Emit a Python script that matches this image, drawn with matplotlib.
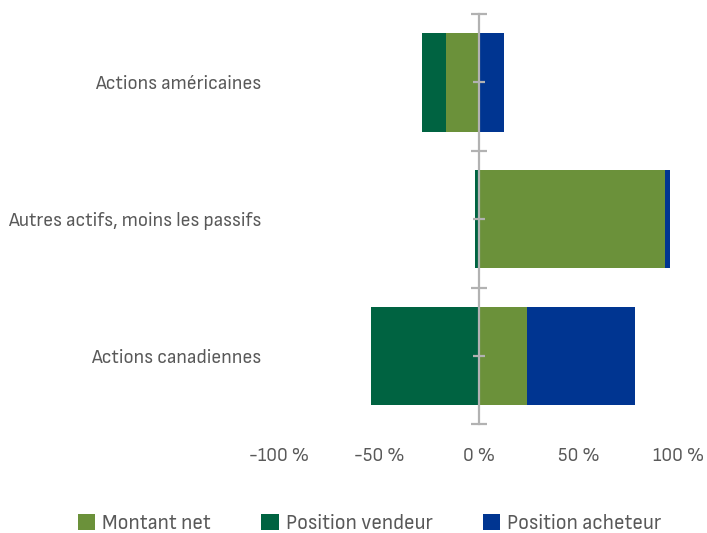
import matplotlib
matplotlib.use("Agg")
import matplotlib.pyplot as plt
import numpy as np
from matplotlib import font_manager as fm

# look for a narrow sans face, the reference uses a condensed font
narrow = None
for f in fm.fontManager.ttflist:
    n = f.name.lower()
    if f.style == "normal" and f.weight in (400, "normal", "regular") and \
            ("narrow" in n or "condensed" in n or f.stretch in ("condensed", "semi-condensed")):
        if narrow is None or "sans" in n:
            narrow = f
if narrow is not None:
    plt.rcParams["font.family"] = [narrow.name, "DejaVu Sans"]
    plt.rcParams["font.stretch"] = narrow.stretch
    scale = 1.0
else:
    plt.rcParams["font.family"] = ["Liberation Sans", "DejaVu Sans"]
    scale = 0.88

categories = ["Actions américaines", "Autres actifs, moins les passifs", "Actions canadiennes"]
series_names = ["Montant net", "Position vendeur", "Position acheteur"]
montant_net = [-16.7, 93.2, 23.8]
position_vendeur = [-12.0, -2.0, -54.0]
position_acheteur = [12.5, 2.3, 54.2]
colors = ["#6B913A", "#006341", "#003591"]
tick_values = [-100, -50, 0, 50, 100]

text_col = "#595959"
axis_col = "#B2B2B2"

fig = plt.figure(figsize=(7.07, 5.33), dpi=100)
ax = fig.add_axes([279 / 707, 1 - 424.5 / 533, 400 / 707, 410.5 / 533])

y = np.arange(len(categories))
pos_base = np.zeros(len(categories))
neg_base = np.zeros(len(categories))
for name, vals, c in zip(series_names, [montant_net, position_vendeur, position_acheteur], colors):
    vals = np.array(vals)
    base = np.where(vals >= 0, pos_base, neg_base)
    ax.barh(y, vals, left=base, height=0.718, color=c, label=name, zorder=1)
    pos_base = pos_base + np.where(vals >= 0, vals, 0)
    neg_base = neg_base + np.where(vals < 0, vals, 0)

ax.set_xlim(-100, 100)
ax.set_ylim(2.5, -0.5)

for s in ["top", "right", "bottom"]:
    ax.spines[s].set_visible(False)
ax.spines["left"].set_position(("data", 0))
ax.spines["left"].set_color(axis_col)
ax.spines["left"].set_linewidth(1.6)

ax.set_xticks(tick_values)
ax.set_xticklabels([f"{v} %" for v in tick_values])
ax.tick_params(axis="x", length=0, pad=16, labelsize=14 * scale, labelcolor=text_col)

ax.set_yticks([-0.5, 0.5, 1.5, 2.5])
ax.set_yticklabels([])
ax.set_yticks(y, minor=True)
ax.set_yticklabels(categories, minor=True)
ax.tick_params(axis="y", which="major", direction="inout", length=11, width=1.6, color=axis_col)
ax.tick_params(axis="y", which="minor", direction="inout", length=9, width=1.6, color=axis_col,
               pad=152, labelsize=14.5 * scale, labelcolor=text_col)

fig.legend(loc="lower center", bbox_to_anchor=(0.523, -0.037), ncol=3, frameon=False,
           fontsize=15.4 * scale, handlelength=0.8, handleheight=0.8, handletextpad=0.33,
           columnspacing=2.35, labelcolor=text_col)

plt.savefig("out.png", dpi=100)
